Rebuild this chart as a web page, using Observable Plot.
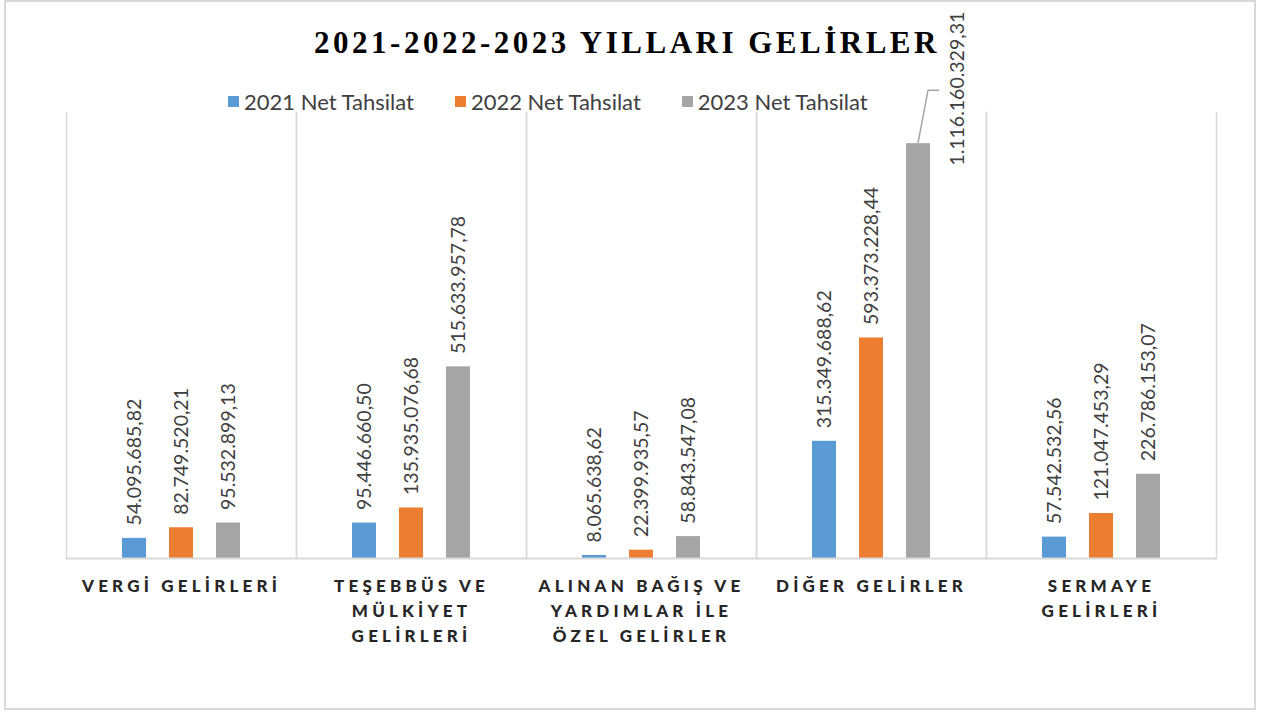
<!DOCTYPE html>
<html><head><meta charset="utf-8">
<script src="https://cdn.jsdelivr.net/npm/d3@7"></script>
<script src="https://cdn.jsdelivr.net/npm/@observablehq/plot@0.6"></script>
<style>
body{margin:0;background:#fff;}
#wrap{position:relative;width:1268px;height:713px;overflow:hidden;background:#fff;}
#wrap svg{position:absolute;left:0;top:0;}
#border{position:absolute;left:4px;top:0;width:1248px;height:706px;border:2px solid #d9d9d9;}
#title{position:absolute;left:0;width:1254px;top:27px;line-height:31px;text-align:center;font-family:"Liberation Serif",serif;font-weight:bold;font-size:31px;letter-spacing:3.5px;color:#000;}
#legend{position:absolute;left:228px;top:88px;display:flex;font-family:Lato,sans-serif;font-size:22px;color:#404040;white-space:nowrap;}
.item{display:flex;align-items:center;margin-right:41px;}
.sw{width:11px;height:11px;margin-right:5px;}
#wrap svg g[aria-label="fx-axis tick label"] text{letter-spacing:4.2px;}
</style></head>
<body><div id="wrap"><div id="border"></div></div>
<script>
const categories = ["VERGİ GELİRLERİ", "TEŞEBBÜS VE MÜLKİYET GELİRLERİ", "ALINAN BAĞIŞ VE YARDIMLAR İLE ÖZEL GELİRLER", "DİĞER GELİRLER", "SERMAYE GELİRLERİ"];
const tickLabels = [["VERGİ GELİRLERİ"], ["TEŞEBBÜS VE", "MÜLKİYET", "GELİRLERİ"], ["ALINAN BAĞIŞ VE", "YARDIMLAR İLE", "ÖZEL GELİRLER"], ["DİĞER GELİRLER"], ["SERMAYE", "GELİRLERİ"]];
const series = ["2021 Net Tahsilat", "2022 Net Tahsilat", "2023 Net Tahsilat"];
const values2021 = [54095685.82, 95446660.50, 8065638.62, 315349688.62, 57542532.56];
const values2022 = [82749520.21, 135935076.68, 22399935.57, 593373228.44, 121047453.29];
const values2023 = [95532899.13, 515633957.78, 58843547.08, 1116160329.31, 226786153.07];
const colors = ["#5B9BD5", "#ED7D31", "#A5A5A5"];
const chartTitle = "2021-2022-2023 YILLARI GELİRLER";

const seriesValues = [values2021, values2022, values2023];
const data = categories.flatMap((c, i) => series.map((s, j) => ({category: c, series: s, value: seriesValues[j][i]})));
const maxValue = d3.max(data, d => d.value);
const fmt = v => { const [a, b] = v.toFixed(2).split("."); return a.replace(/\B(?=(\d{3})+(?!\d))/g, ".") + "," + b; };

const chart = Plot.plot({
  width: 1268, height: 713,
  marginTop: 112, marginBottom: 155, marginLeft: 66, marginRight: 52,
  style: {fontFamily: "Lato, sans-serif", background: "transparent", overflow: "visible"},
  fx: {domain: categories, padding: 0, label: null},
  x: {domain: series, paddingInner: 0.49, paddingOuter: 1.19, axis: null},
  y: {domain: [0, 1.2e9], axis: null},
  color: {domain: series, range: colors},
  marks: [
    Plot.frame({anchor: "left", stroke: "#d9d9d9", strokeWidth: 1.5}),
    Plot.frame({anchor: "right", stroke: "#d9d9d9", strokeWidth: 1.5}),
    Plot.barY(data, {fx: "category", x: "series", y: "value", fill: "series"}),
    Plot.ruleY([0], {stroke: "#d9d9d9", strokeWidth: 2}),
    Plot.text(data.filter(d => d.value !== maxValue), {fx: "category", x: "series", y: "value", text: d => fmt(d.value), rotate: -90, textAnchor: "start", dy: -13, fontSize: 19.5, fill: "#404040"}),
    Plot.text(data.filter(d => d.value === maxValue), {fx: "category", x: "series", y: "value", text: d => fmt(d.value), rotate: -90, textAnchor: "start", dx: 39, dy: 22, fontSize: 19.5, fill: "#404040"}),
    Plot.axisFx({anchor: "bottom", tickSize: 0, tickPadding: 0, dy: 16, label: null, fontWeight: 900, fontSize: 17, lineHeight: 1.47, fill: "#262626",
      tickFormat: c => tickLabels[categories.indexOf(c)].join("\n")})
  ]
});
const wrap = document.getElementById("wrap");
wrap.appendChild(chart);

// leader line for the relocated label, anchored on the rendered bar
const rects = Array.from(chart.querySelectorAll("rect"));
const tallest = rects.reduce((a, r) => (a && a.getBoundingClientRect().height > r.getBoundingClientRect().height) ? a : r, null);
if (tallest) {
  const b = tallest.getBoundingClientRect();
  const cx = b.x + b.width / 2;
  d3.select(chart).append("path")
    .attr("d", `M${cx},${b.y} L${cx + 10},${b.y - 53} L${cx + 21},${b.y - 53}`)
    .attr("fill", "none").attr("stroke", "#a5a5a5").attr("stroke-width", 1.5);
}

const t = document.createElement("div"); t.id = "title"; t.textContent = chartTitle; wrap.appendChild(t);
const lg = document.createElement("div"); lg.id = "legend";
series.forEach((s, i) => {
  const it = document.createElement("div"); it.className = "item";
  const sw = document.createElement("div"); sw.className = "sw"; sw.style.background = colors[i];
  const tx = document.createElement("span"); tx.textContent = s;
  it.appendChild(sw); it.appendChild(tx); lg.appendChild(it);
});
wrap.appendChild(lg);
</script></body></html>
